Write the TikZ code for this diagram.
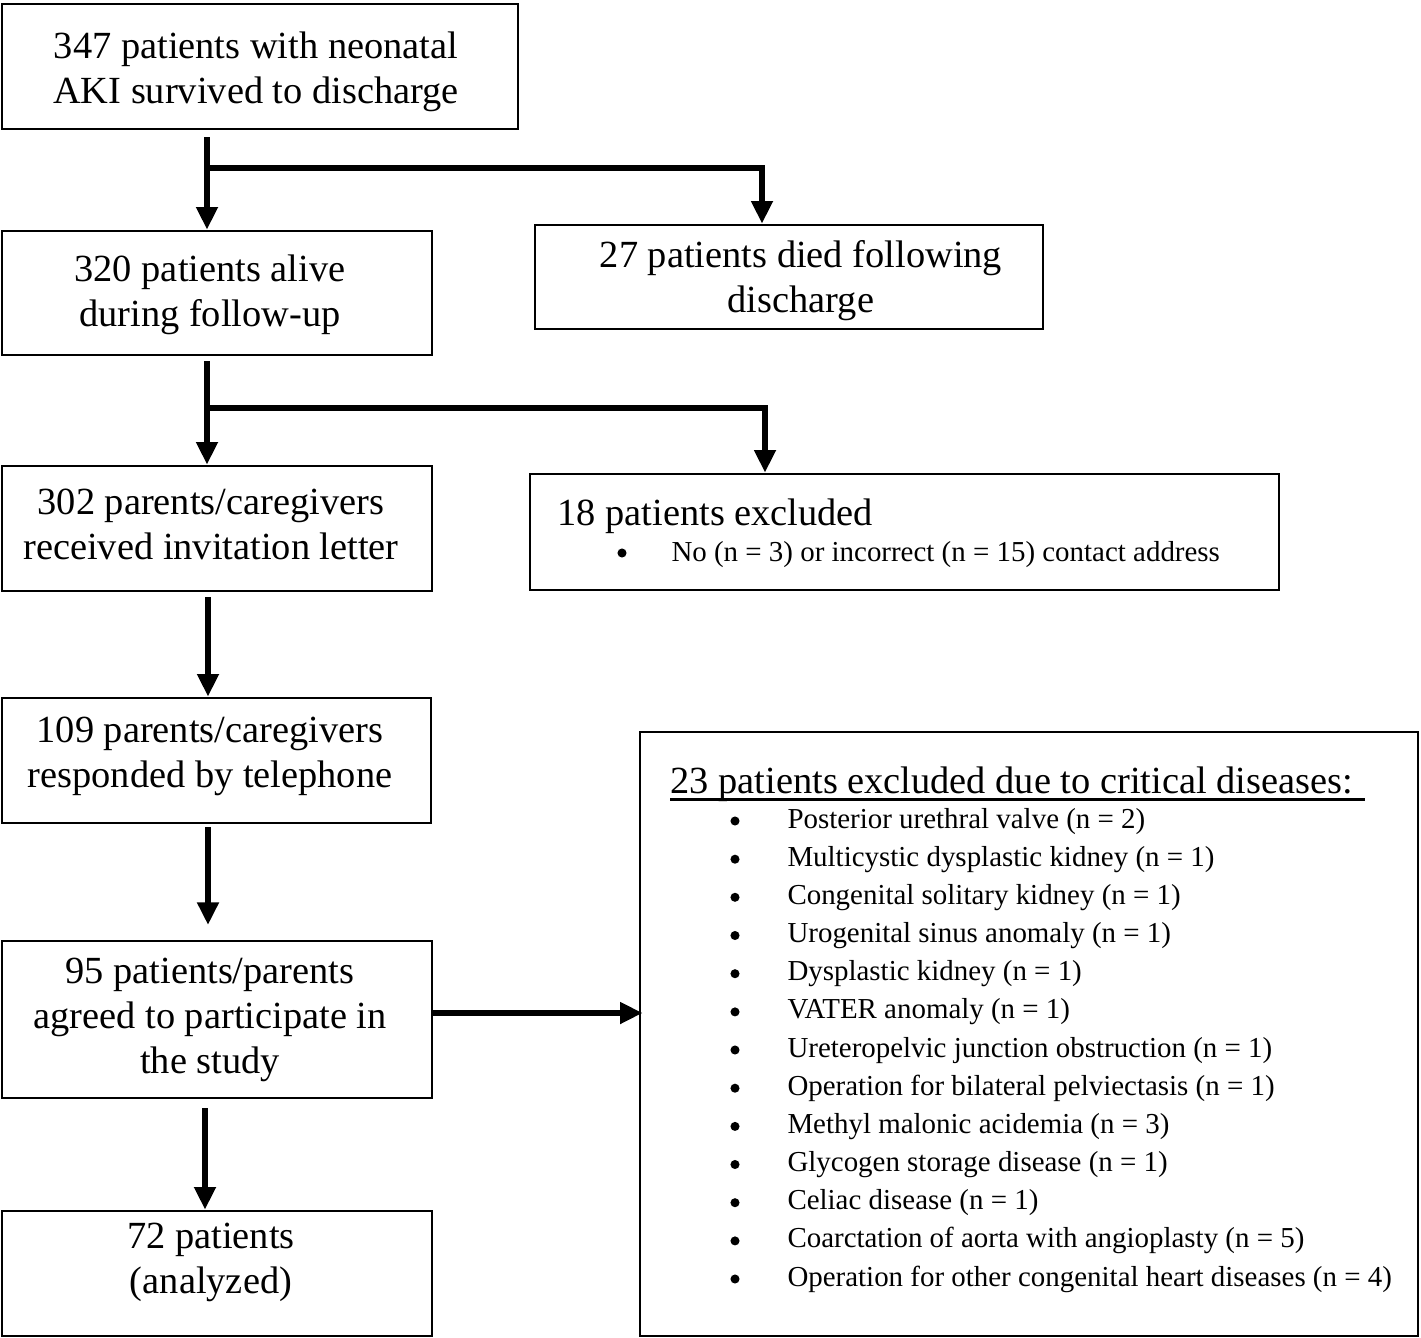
\documentclass[tikz,border=0pt]{standalone}
\usepackage{fontspec}
\setmainfont{Liberation Serif}
\usetikzlibrary{arrows.meta}

\newcommand{\pxu}{0.75pt}
\tikzset{every picture/.style={line width=0.75pt}}
\tikzset{
  box/.style={draw, line width=2pt, inner sep=0pt},
  bigtext/.style={font=\fontsize{28.8}{33.75}\selectfont, align=center, inner sep=0.75pt},
  listtext/.style={font=\fontsize{21.7}{28.6}\selectfont, inner sep=0pt, anchor=base west},
  flow/.style={line width=5pt, -{Triangle[length=17pt,width=15.5pt]}},
  dot/.style={fill, draw=none}
}

\begin{document}
\begin{tikzpicture}[x=0.75pt,y=0.75pt,yscale=-1,xscale=1]
        \useasboundingbox (0,0) rectangle (1421,1338);

        %Shape: Rectangle [id:start] 
        \node [box, minimum width=516*\pxu, minimum height=125*\pxu] (start) at (260,66.5) {};
        %Shape: Rectangle [id:alive] 
        \node [box, minimum width=430*\pxu, minimum height=124*\pxu] (alive) at (217,293) {};
        %Shape: Rectangle [id:died] 
        \node [box, minimum width=508*\pxu, minimum height=104*\pxu] (died) at (789,277) {};
        %Shape: Rectangle [id:invited] 
        \node [box, minimum width=430*\pxu, minimum height=125*\pxu] (invited) at (217,528.5) {};
        %Shape: Rectangle [id:excl18] 
        \node [box, minimum width=749*\pxu, minimum height=116*\pxu] (excl18) at (904.5,532) {};
        %Shape: Rectangle [id:responded] 
        \node [box, minimum width=429*\pxu, minimum height=125*\pxu] (responded) at (216.5,760.5) {};
        %Shape: Rectangle [id:agreed] 
        \node [box, minimum width=430*\pxu, minimum height=157*\pxu] (agreed) at (217,1019.5) {};
        %Shape: Rectangle [id:analyzed] 
        \node [box, minimum width=430*\pxu, minimum height=125*\pxu] (analyzed) at (217,1273.5) {};
        %Shape: Rectangle [id:excl23] 
        \node [box, minimum width=778*\pxu, minimum height=604*\pxu] (excl23) at (1029,1034) {};

        % Text Node
        \node [bigtext] (startT) at (256,72) {347 patients with neonatal\\AKI survived to discharge};
        % Text Node
        \node [bigtext] (aliveT) at (210,295) {320 patients alive\\during follow-up};
        % Text Node
        \node [bigtext] (diedT) at (801,281) {27 patients died following\\discharge};
        % Text Node
        \node [bigtext] (invitedT) at (211,524) {302 parents/caregivers\\received invitation letter};
        % Text Node
        \node [bigtext] (respondedT) at (210,756) {109 parents/caregivers\\responded by telephone};
        % Text Node
        \node [bigtext] (agreedT) at (210,1020) {95 patients/parents\\agreed to participate in\\the study};
        % Text Node
        \node [bigtext] (analyzedT) at (211,1262) {72 patients\\(analyzed)};

        % Text Node
        \node [bigtext, inner sep=0pt, anchor=base west] (excl18T) at (557,525) {18 patients excluded};
        %Shape: Ellipse [id:excl18dot] 
        \fill (622,553) circle (3.4pt);
        % Text Node
        \node [listtext] (excl18a) at (671,561) {No (n = 3) or incorrect (n = 15) contact address};

        % Text Node
        \node [bigtext, inner sep=0pt, anchor=base west] (excl23T) at (670,793) {23 patients excluded due to critical diseases:\hspace{0.3em}};
        % underline
        \draw [line width=1.8pt] ([yshift=5]excl23T.base west) -- ([yshift=5]excl23T.base east);
        %Shapes: Ellipse [bullets] 
        \fill (735,821) circle (3.4pt);
        \fill (735,859.2) circle (3.4pt);
        \fill (735,897.3) circle (3.4pt);
        \fill (735,935.5) circle (3.4pt);
        \fill (735,973.7) circle (3.4pt);
        \fill (735,1011.9) circle (3.4pt);
        \fill (735,1050) circle (3.4pt);
        \fill (735,1088.2) circle (3.4pt);
        \fill (735,1126.4) circle (3.4pt);
        \fill (735,1164.5) circle (3.4pt);
        \fill (735,1202.7) circle (3.4pt);
        \fill (735,1240.9) circle (3.4pt);
        \fill (735,1279) circle (3.4pt);
        % Text Node
        \node [listtext] (dis1) at (787,828) {Posterior urethral valve (n = 2)};
        % Text Node
        \node [listtext] (dis2) at (787,866.2) {Multicystic dysplastic kidney (n = 1)};
        % Text Node
        \node [listtext] (dis3) at (787,904.3) {Congenital solitary kidney (n = 1)};
        % Text Node
        \node [listtext] (dis4) at (787,942.5) {Urogenital sinus anomaly (n = 1)};
        % Text Node
        \node [listtext] (dis5) at (787,980.7) {Dysplastic kidney (n = 1)};
        % Text Node
        \node [listtext] (dis6) at (787,1018.9) {VATER anomaly (n = 1)};
        % Text Node
        \node [listtext] (dis7) at (787,1057) {Ureteropelvic junction obstruction (n = 1)};
        % Text Node
        \node [listtext] (dis8) at (787,1095.2) {Operation for bilateral pelviectasis (n = 1)};
        % Text Node
        \node [listtext] (dis9) at (787,1133.4) {Methyl malonic acidemia (n = 3)};
        % Text Node
        \node [listtext] (dis10) at (787,1171.5) {Glycogen storage disease (n = 1)};
        % Text Node
        \node [listtext] (dis11) at (787,1209.7) {Celiac disease (n = 1)};
        % Text Node
        \node [listtext] (dis12) at (787,1247.9) {Coarctation of aorta with angioplasty (n = 5)};
        % Text Node
        \node [listtext] (dis13) at (787,1286) {Operation for other congenital heart diseases (n = 4)};

        % branch points
        \coordinate (sp1) at (207,168);
        \coordinate (sp1r) at (762,168);
        \coordinate (sp2) at (207,408);
        \coordinate (sp2r) at (765,408);
        \coordinate (sp3) at (208,0);
        \coordinate (sp5) at (205,0);
        \coordinate (sp6) at (0,1013);

        %Straight Lines [id:arrows] 
        \draw [flow, shorten <=5pt] (start.south -| sp1) -- (alive.north -| sp1);
        \draw [flow] (sp1) -- (sp1r) -- (died.north -| sp1r);
        \draw [flow, shorten <=3.75pt] (alive.south -| sp2) -- (invited.north -| sp2);
        \draw [flow] (sp2) -- (sp2r) -- (excl18.north -| sp2r);
        \draw [flow, shorten <=3.75pt] (invited.south -| sp3) -- (responded.north -| sp3);
        \draw [flow, shorten <=2.25pt, shorten >=11pt] (responded.south -| sp3) -- (agreed.north -| sp3);
        \draw [flow, shorten <=6.75pt] (agreed.south -| sp5) -- (analyzed.north -| sp5);
        \draw [flow, shorten >=-3pt] (agreed.east |- sp6) -- (excl23.west |- sp6);

\end{tikzpicture}
\end{document}
